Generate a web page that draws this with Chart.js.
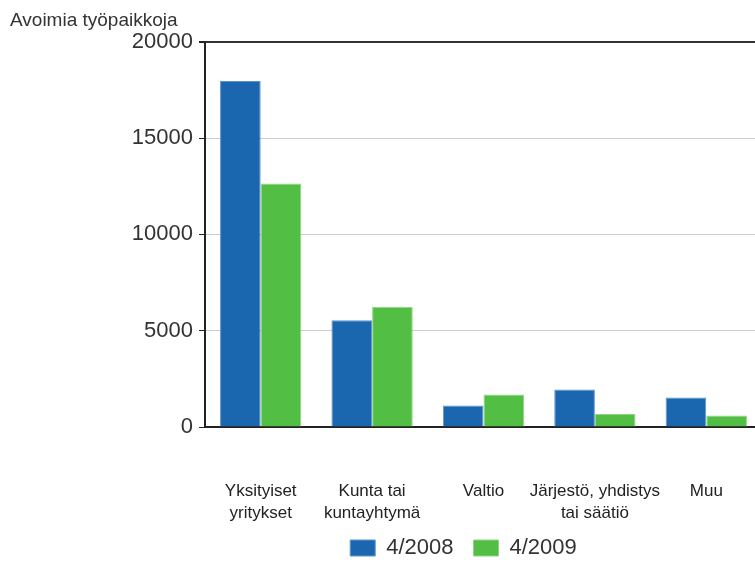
<!DOCTYPE html>
<html>
<head>
<meta charset="utf-8">
<script src="https://cdn.jsdelivr.net/npm/chart.js@4/dist/chart.umd.min.js"></script>
<style>
  html, body { margin: 0; padding: 0; background: #fff; overflow: hidden; }
  #wrap { width: 762px; height: 563px; }
</style>
</head>
<body>
<div id="wrap"><canvas id="jobsChart"></canvas></div>
<script>
// Sektorit (kategoriat)
const categories = [
    ['Yksityiset', 'yritykset'],
    ['Kunta tai', 'kuntayhtymä'],
    'Valtio',
    ['Järjestö, yhdistys', 'tai säätiö'],
    'Muu'
];

// Avoimet työpaikat
const values2008 = [17960, 5540, 1120, 1950, 1530];
const values2009 = [12640, 6240, 1690, 680, 600];

const seriesLabels = ['4/2008', '4/2009'];
const yTicks = [0, 5000, 10000, 15000, 20000];

const fontFamily = '"Liberation Sans", Arial, sans-serif';

// Selite hieman alemmas ja vasemmalle, x-akselin nimikkeille lisää tilaa
const layoutTweak = {
    id: 'layoutTweak',
    afterLayout(chart) {
        const lg = chart.legend;
        if (lg) {
            lg.top += 6;
            lg.bottom += 6;
            lg.left -= 20;
            lg.right -= 20;
        }
        // nimikkeet leikataan asteikon alueeseen, joten venytetään sitä
        chart.scales.x.bottom += 24;
    }
};

const ctx = document.getElementById('jobsChart').getContext('2d');
new Chart(ctx, {
    type: 'bar',
    data: {
        labels: categories,
        datasets: [{
            label: seriesLabels[0],
            data: values2008,
            backgroundColor: '#1a67b0',
            borderColor: '#5f95c9',
            borderWidth: 1,
            barPercentage: 1.0,
            categoryPercentage: 0.73
        }, {
            label: seriesLabels[1],
            data: values2009,
            backgroundColor: '#52be44',
            borderColor: '#8fd586',
            borderWidth: 1,
            barPercentage: 1.0,
            categoryPercentage: 0.73
        }]
    },
    plugins: [layoutTweak],
    options: {
        responsive: true,
        maintainAspectRatio: false,
        animation: false,
        layout: {
            padding: { left: 10, right: 0, top: 0, bottom: 0 }
        },
        plugins: {
            title: {
                display: true,
                text: 'Avoimia työpaikkoja',
                align: 'start',
                color: '#333',
                font: { family: fontFamily, size: 19, weight: 'normal' },
                padding: { top: 9, bottom: 10 }
            },
            legend: {
                position: 'bottom',
                fullSize: false,
                labels: {
                    color: '#333',
                    boxWidth: 25,
                    boxHeight: 16,
                    padding: 20,
                    font: { family: fontFamily, size: 22 }
                }
            },
            tooltip: { enabled: false }
        },
        scales: {
            x: {
                // tickLength siirtää nimikkeitä alas, viivoja ei piirretä
                grid: { display: false, drawTicks: true, tickLength: 54 },
                border: { display: true, color: '#222', width: 2 },
                afterFit: scale => {
                    scale.height = 84;
                },
                ticks: {
                    color: '#222',
                    padding: 0,
                    maxRotation: 0,
                    autoSkip: false,
                    font: { family: fontFamily, size: 17, lineHeight: 1.25 }
                }
            },
            y: {
                min: 0,
                max: 20000,
                afterBuildTicks: scale => {
                    scale.ticks = yTicks.map(v => ({ value: v }));
                },
                afterFit: scale => {
                    scale.width = 195;
                },
                border: { display: true, color: '#222', width: 2 },
                grid: {
                    color: c => (c.tick && c.tick.value === 20000) ? '#333' : '#cccccc',
                    lineWidth: c => (c.tick && c.tick.value === 20000) ? 2 : 1,
                    tickColor: '#222',
                    tickLength: 6
                },
                ticks: {
                    color: '#333',
                    padding: 6,
                    font: { family: fontFamily, size: 22 },
                    callback: value => String(value)
                }
            }
        }
    }
});
</script>
</body>
</html>
